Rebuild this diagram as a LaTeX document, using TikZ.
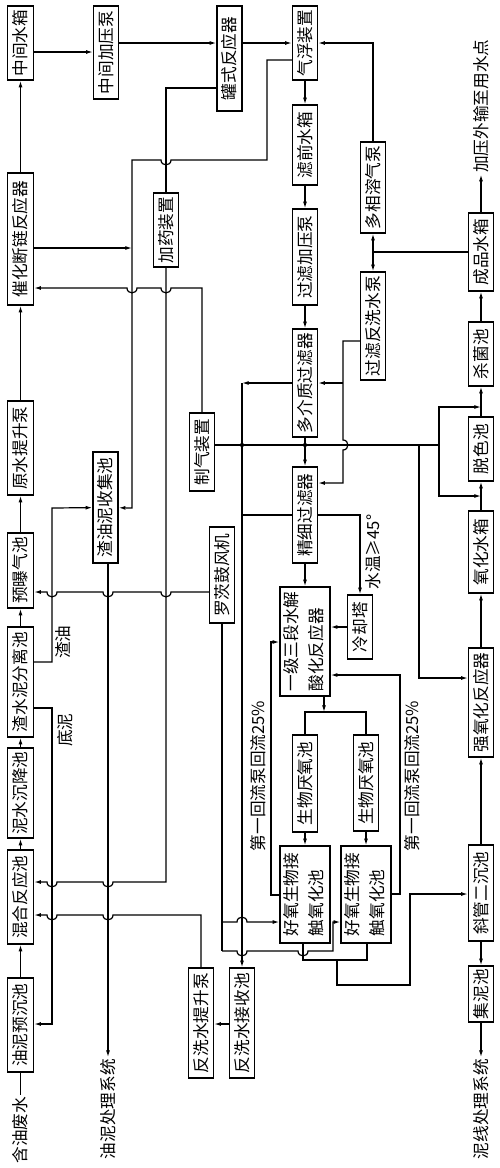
\documentclass[tikz,border=0pt]{standalone}
\usepackage{fontspec}
\newfontfamily\cjk{Noto Sans CJK SC}
\usepackage{graphicx}
\usepackage{tikz}
\usetikzlibrary{arrows.meta,calc}

\begin{document}
\begin{tikzpicture}[x=0.75pt,y=-0.75pt,line width=0.9pt,
        every node/.style={font=\cjk\fontsize{12.5}{18.75}\selectfont,inner sep=1pt},
        box/.style 2 args={draw,line width=1.1pt,inner sep=0pt,
            minimum width=#1*0.75pt,minimum height=#2*0.75pt},
        >={Latex[length=5pt,width=3pt]},
        hop/.style 2 args={insert path={-- (#1-5,#2) .. controls (#1-5,#2+6.5) and (#1+5,#2+6.5) .. (#1+5,#2)}},
        hopu/.style 2 args={insert path={-- (#1-5,#2) .. controls (#1-5,#2-6.5) and (#1+5,#2-6.5) .. (#1+5,#2)}},
        hopl/.style 2 args={insert path={-- (#1+5,#2) .. controls (#1+5,#2+6.5) and (#1-5,#2+6.5) .. (#1-5,#2)}},
        hopd/.style 2 args={insert path={-- (#1,#2-5) .. controls (#1+6.5,#2-5) and (#1+6.5,#2+5) .. (#1,#2+5)}}]
    \useasboundingbox (0,0) rectangle (500,1168);

    % left column
    \node[box={26}{74}] (zjsx) at (20.5,43) {\rotatebox{90}{中间水箱}};
    \node[box={26}{132}] (chdl) at (20.5,239) {\rotatebox{90}{催化断链反应器}};
    \node[box={26}{94}] (ysts) at (20.5,448) {\rotatebox{90}{原水提升泵}};
    \node[box={26}{75}] (ybq) at (20.5,570.5) {\rotatebox{90}{预曝气池}};
    \node[box={26}{110}] (zsnfl) at (20.5,682) {\rotatebox{90}{渣水泥分离池}};
    \node[box={26}{90}] (nscj) at (20.5,793) {\rotatebox{90}{泥水沉降池}};
    \node[box={26}{94}] (hhfy) at (20.5,897) {\rotatebox{90}{混合反应池}};
    \node[box={26}{94}] (ynyc) at (20.5,1025) {\rotatebox{90}{油泥预沉池}};
    \node (hyfs) at (20.5,1130) {\rotatebox{90}{含油废水}};

    \node[box={25}{93}] (zjjyb) at (106,52.5) {\rotatebox{90}{中间加压泵}};
    \node[box={25}{111}] (zynsj) at (105.5,507.5) {\rotatebox{90}{渣油泥收集池}};
    \node (ynxt) at (108,1109) {\rotatebox{90}{油泥处理系统}};
    \node (zy) at (63,642) {\rotatebox{90}{渣油}};
    \node (dn) at (65,730) {\rotatebox{90}{底泥}};

    \node[box={25}{74}] (jyzz) at (166,230) {\rotatebox{90}{加药装置}};
    \node[box={25}{78}] (zqzz) at (202,452) {\rotatebox{90}{制气装置}};
    \node[box={25}{96}] (lcfj) at (222,575) {\rotatebox{90}{罗茨鼓风机}};
    \node[box={25}{105}] (gsfyq) at (229.5,58.5) {\rotatebox{90}{罐式反应器}};
    \node[box={25}{110}] (fxts) at (201,1023) {\rotatebox{90}{反洗水提升泵}};
    \node[box={25}{110}] (fxjs) at (242,1023) {\rotatebox{90}{反洗水接收池}};

    % middle column
    \node[box={25}{74}] (qfzz) at (305,43) {\rotatebox{90}{气浮装置}};
    \node[box={25}{80}] (lqsx) at (305,145) {\rotatebox{90}{滤前水箱}};
    \node[box={25}{96}] (gljyb) at (305,257) {\rotatebox{90}{过滤加压泵}};
    \node[box={25}{108}] (djzglq) at (305,383) {\rotatebox{90}{多介质过滤器}};
    \node[box={25}{96}] (jxglq) at (305,515) {\rotatebox{90}{精细过滤器}};
    \node[box={47}{109}] (sjsh) at (305,641.5)
        {\rotatebox{90}{\begin{tabular}{@{}l@{}}一级三段水解\\酸化反应器\end{tabular}}};
    \node[box={25}{97}] (yyc1) at (305,783.5) {\rotatebox{90}{生物厌氧池}};
    \node[box={47}{97}] (hyc1) at (305,894.5)
        {\rotatebox{90}{\begin{tabular}{@{}l@{}}好氧生物接\\触氧化池\end{tabular}}};
    \node[box={25}{96}] (yyc2) at (366,783) {\rotatebox{90}{生物厌氧池}};
    \node[box={47}{97}] (hyc2) at (366,894.5)
        {\rotatebox{90}{\begin{tabular}{@{}l@{}}好氧生物接\\触氧化池\end{tabular}}};
    \node[box={25}{64}] (lqt) at (360,627) {\rotatebox{90}{冷却塔}};
    \node[box={25}{91}] (dxrqb) at (373,187.5) {\rotatebox{90}{多相溶气泵}};
    \node[box={25}{108}] (glfxb) at (373,326) {\rotatebox{90}{过滤反洗水泵}};
    \node (sw) at (373,552) {\rotatebox{90}{水温≥45°}};
    \node (hl1) at (258,776) {\rotatebox{90}{第一回流泵回流25\%}};
    \node (hl2) at (412,776) {\rotatebox{90}{第一回流泵回流25\%}};

    % right column
    \node (jyws) at (481,106) {\rotatebox{90}{加压外输至用水点}};
    \node[box={25}{78}] (cpsx) at (481,252) {\rotatebox{90}{成品水箱}};
    \node[box={25}{64}] (sjc) at (481,354) {\rotatebox{90}{杀菌池}};
    \node[box={25}{64}] (tsc) at (481,449) {\rotatebox{90}{脱色池}};
    \node[box={25}{82}] (yhsx) at (481,552) {\rotatebox{90}{氧化水箱}};
    \node[box={25}{109}] (qyhfyq) at (481,702.5) {\rotatebox{90}{强氧化反应器}};
    \node[box={25}{96}] (xgecc) at (481,893) {\rotatebox{90}{斜管二沉池}};
    \node[box={25}{56}] (jnc) at (481,994) {\rotatebox{90}{集泥池}};
    \node (nxxt) at (481,1109) {\rotatebox{90}{泥线处理系统}};

    % straight runs
    \draw (hyfs) -- (ynyc);
    \foreach \a/\b in {ynyc/hhfy,hhfy/nscj,nscj/zsnfl,zsnfl/ybq,ybq/ysts,ysts/chdl,chdl/zjsx,
        qfzz/lqsx,lqsx/gljyb,gljyb/djzglq,djzglq/jxglq,jxglq/sjsh,yyc1/hyc1,yyc2/hyc2,
        xgecc/qyhfyq,qyhfyq/yhsx,yhsx/tsc,tsc/sjc,sjc/cpsx,cpsx/jyws,xgecc/jnc,jnc/nxxt}
        \draw[->] (\a) -- (\b);
    \draw[->] (zjsx.east |- 0,52) -- (zjjyb.west |- 0,52);
    \draw[->] (zjjyb.east |- 0,43) -- (gsfyq.west |- 0,43);
    \draw[->] (gsfyq.east |- 0,43) -- (qfzz.west |- 0,43);

    % dosing
    \draw (gsfyq.west |- 0,88) -- (166,88) -- (jyzz);
    \draw[<-] (hhfy.east |- 0,882) [hop={52}{882}] [hop={108}{882}] -- (166,882) -- (jyzz);

    % scum and sludge
    \draw[->] (qfzz.west |- 0,60) -- (267,60) -- (267,160) [hopl={166}{160}] -- (132,160) -- (132,508) -- (zynsj);
    \draw[->] (chdl.east |- 0,248) -- (132,248);
    \draw[->] (zqzz) -- (202,288) [hopl={166}{288}] [hopl={132}{288}] -- (chdl.east |- 0,288);
    \draw[->] (zsnfl.east |- 0,662) -- (52,662) -- (52,508) -- (zynsj);
    \draw[->] (zsnfl.east |- 0,708) -- (52,708) -- (52,1024) -- (ynyc.east |- 0,1024);
    \draw[->] (zynsj.south -| 108,0) -- (ynxt);

    % air
    \draw[<-] (ybq.east |- 0,592) [hop={52}{592}] [hop={108}{592}] [hop={166}{592}] -- (lcfj.west |- 0,592);
    \draw (lcfj) -- (222,951);
    \draw[->] (222,922) [hopu={242}{922}] -- (hyc1.west |- 0,922);
    \draw[->] (222,951) [hop={242}{951}] [hop={303}{951}] -- (333,951) -- (333,922) -- (hyc2.west |- 0,922);

    % backwash
    \draw[->] (fxjs.west |- 0,1024) -- (fxts.east |- 0,1024);
    \draw[->] (fxts) -- (201,915) [hopl={108}{915}] [hopl={52}{915}] -- (hhfy.east |- 0,915);
    \draw[->] (djzglq.west |- 0,383) -- (242,383);
    \draw[->] (242,383) -- (fxjs);
    \draw (jxglq.west |- 0,515) -- (242,515);
    \draw[->] (glfxb.west |- 0,341) -- (343,341) [hopd={343}{445}] -- (343,483) -- (jxglq.east |- 0,483);
    \draw[->] (343,383) -- (djzglq.east |- 0,383);

    % dissolved air and product water
    \draw[->] (dxrqb) -- (373,43) -- (qfzz.east |- 0,43);
    \draw (cpsx.west |- 0,252) -- (373,252);
    \draw[->] (373,252) -- (dxrqb);
    \draw[->] (373,252) -- (glfxb);

    % gas
    \draw (zqzz.east |- 0,445) -- (439,445);
    \draw[->] (439,445) -- (439,407) -- (481,407);
    \draw[->] (439,445) -- (439,496) -- (481,496);
    \draw[->] (419,445) -- (419,678) -- (qyhfyq.west |- 0,678);
    \fill (242,445) circle[radius=1.6pt] (305,445) circle[radius=1.6pt];

    % cooling and biology
    \draw[->] (jxglq.east |- 0,515) -- (360,515) -- (lqt);
    \draw[->] (lqt.west |- 0,627) -- (sjsh.east |- 0,627);
    \draw[->] (sjsh.south -| 324,0) -- (324,712);
    \draw (yyc1) -- (305,712) -- (366,712) -- (yyc2);
    \draw[->] (hyc1.west |- 0,895) -- (271,895) -- (271,642) -- (sjsh.west |- 0,642);
    \draw[->] (hyc2.east |- 0,894) -- (400,894) -- (400,675) -- (sjsh.east |- 0,675);
    \draw (hyc1.south -| 303,0) -- (303,960) -- (337,960);
    \draw[->] (hyc2.south -| 367,0) -- (367,960) -- (337,960) -- (337,985) -- (410,985) -- (410,894) -- (xgecc.west |- 0,894);
\end{tikzpicture}
\end{document}
